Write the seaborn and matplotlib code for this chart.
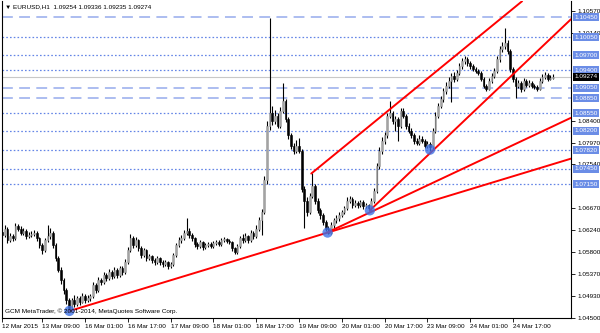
import numpy as np
import pandas as pd
import matplotlib
matplotlib.use("Agg")
import matplotlib.pyplot as plt
import seaborn as sns
from matplotlib import font_manager
from matplotlib.transforms import blended_transform_factory, offset_copy

# ---------------- data ----------------
first_open = 1.0620
closes = [1.0614,1.0627,1.0604,1.0612,1.0608,1.0631,1.0627,1.0619,1.0623,1.0612,
 1.0615,1.0617,1.0619,1.0608,1.0594,1.0584,1.0604,1.0612,1.0619,1.0594,
 1.0568,1.0545,1.0525,1.0505,1.0485,1.0470,1.0485,1.0478,1.0489,1.0482,
 1.0493,1.0485,1.0489,1.0493,1.0515,1.0505,1.0525,1.0521,1.0535,1.0529,
 1.0541,1.0533,1.0545,1.0535,1.0548,1.0541,1.0560,1.0584,1.0608,1.0594,
 1.0604,1.0588,1.0574,1.0584,1.0568,1.0572,1.0564,1.0560,1.0568,1.0560,
 1.0556,1.0560,1.0552,1.0556,1.0574,1.0594,1.0604,1.0608,1.0619,1.0623,
 1.0614,1.0608,1.0596,1.0592,1.0600,1.0590,1.0594,1.0596,1.0592,1.0598,
 1.0600,1.0596,1.0604,1.0606,1.0602,1.0600,1.0588,1.0580,1.0592,1.0608,
 1.0604,1.0612,1.0604,1.0619,1.0612,1.0627,1.0643,1.0659,1.0722,1.0830,
 1.0856,1.0840,1.0850,1.0830,1.0860,1.0880,1.0844,1.0811,1.0791,1.0781,
 1.0791,1.0781,1.0706,1.0682,1.0659,1.0692,1.0712,1.0682,1.0663,1.0653,
 1.0639,1.0627,1.0619,1.0633,1.0643,1.0647,1.0653,1.0659,1.0667,1.0682,
 1.0686,1.0673,1.0677,1.0673,1.0679,1.0671,1.0673,1.0667,1.0682,1.0702,
 1.0751,1.0781,1.0801,1.0811,1.0850,1.0856,1.0840,1.0844,1.0830,1.0860,
 1.0850,1.0830,1.0820,1.0811,1.0801,1.0797,1.0805,1.0801,1.0791,1.0795,
 1.0789,1.0820,1.0850,1.0870,1.0883,1.0899,1.0909,1.0919,1.0929,1.0923,
 1.0935,1.0948,1.0958,1.0962,1.0954,1.0948,1.0943,1.0939,1.0935,1.0923,
 1.0909,1.0903,1.0919,1.0929,1.0939,1.0962,1.0982,1.0988,1.0994,1.0978,
 1.0943,1.0923,1.0909,1.0915,1.0903,1.0919,1.0911,1.0915,1.0909,1.0907,
 1.0903,1.0919,1.0927,1.0931,1.0923,1.0925,1.09274]
highs = [1.0626,1.0633,1.0630,1.0618,1.0617,1.0637,1.0636,1.0631,1.0628,1.0626,
 1.0620,1.0622,1.0624,1.0622,1.0611,1.0598,1.0609,1.0633,1.0628,1.0622,
 1.0598,1.0572,1.0550,1.0529,1.0510,1.0489,1.0490,1.0495,1.0494,1.0493,
 1.0500,1.0497,1.0495,1.0498,1.0521,1.0519,1.0531,1.0530,1.0540,1.0539,
 1.0546,1.0545,1.0550,1.0548,1.0553,1.0552,1.0566,1.0590,1.0616,1.0612,
 1.0610,1.0607,1.0592,1.0589,1.0587,1.0577,1.0575,1.0568,1.0573,1.0571,
 1.0564,1.0565,1.0563,1.0561,1.0579,1.0599,1.0610,1.0614,1.0625,1.0647,
 1.0628,1.0618,1.0611,1.0600,1.0605,1.0603,1.0598,1.0600,1.0600,1.0603,
 1.0605,1.0604,1.0609,1.0611,1.0609,1.0606,1.0603,1.0591,1.0597,1.0613,
 1.0617,1.0618,1.0615,1.0625,1.0623,1.0633,1.0650,1.0666,1.0730,1.0840,
 1.1043,1.0870,1.0862,1.0856,1.0868,1.0915,1.0884,1.0848,1.0815,1.0797,
 1.0803,1.0806,1.0785,1.0712,1.0690,1.0698,1.0736,1.0716,1.0688,1.0668,
 1.0657,1.0643,1.0631,1.0639,1.0648,1.0653,1.0659,1.0664,1.0672,1.0690,
 1.0692,1.0690,1.0684,1.0681,1.0684,1.0683,1.0678,1.0676,1.0687,1.0708,
 1.0757,1.0788,1.0808,1.0818,1.0856,1.0880,1.0860,1.0850,1.0848,1.0866,
 1.0865,1.0854,1.0835,1.0826,1.0815,1.0806,1.0812,1.0809,1.0805,1.0800,
 1.0799,1.0826,1.0857,1.0876,1.0889,1.0905,1.0916,1.0926,1.0935,1.0936,
 1.0941,1.0955,1.0964,1.0968,1.0966,1.0958,1.0952,1.0947,1.0943,1.0938,
 1.0926,1.0913,1.0924,1.0934,1.0945,1.0968,1.0988,1.0995,1.1023,1.0999,
 1.0982,1.0947,1.0927,1.0921,1.0919,1.0924,1.0923,1.0920,1.0919,1.0913,
 1.0911,1.0924,1.0933,1.0936,1.0935,1.0930,1.09336]
lows = [1.0608,1.0610,1.0598,1.0600,1.0602,1.0605,1.0622,1.0614,1.0615,1.0607,
 1.0608,1.0611,1.0613,1.0603,1.0589,1.0577,1.0580,1.0600,1.0606,1.0588,
 1.0562,1.0540,1.0518,1.0498,1.0478,1.0464,1.0466,1.0472,1.0474,1.0476,
 1.0479,1.0480,1.0481,1.0484,1.0490,1.0500,1.0501,1.0515,1.0517,1.0524,
 1.0525,1.0528,1.0530,1.0530,1.0532,1.0536,1.0538,1.0556,1.0580,1.0589,
 1.0590,1.0582,1.0568,1.0570,1.0563,1.0564,1.0559,1.0555,1.0556,1.0555,
 1.0550,1.0552,1.0547,1.0548,1.0553,1.0571,1.0590,1.0598,1.0604,1.0615,
 1.0609,1.0602,1.0590,1.0586,1.0588,1.0585,1.0586,1.0590,1.0588,1.0589,
 1.0594,1.0592,1.0593,1.0600,1.0598,1.0596,1.0583,1.0576,1.0577,1.0589,
 1.0598,1.0600,1.0599,1.0601,1.0606,1.0609,1.0623,1.0614,1.0655,1.0716,
 1.0822,1.0832,1.0834,1.0825,1.0826,1.0855,1.0838,1.0805,1.0785,1.0775,
 1.0776,1.0776,1.0700,1.0629,1.0652,1.0655,1.0688,1.0676,1.0657,1.0646,
 1.0633,1.0622,1.0617,1.0616,1.0629,1.0638,1.0642,1.0649,1.0655,1.0664,
 1.0678,1.0668,1.0669,1.0668,1.0669,1.0666,1.0667,1.0662,1.0664,1.0678,
 1.0698,1.0745,1.0775,1.0795,1.0806,1.0845,1.0834,1.0820,1.0800,1.0826,
 1.0845,1.0824,1.0815,1.0806,1.0795,1.0792,1.0793,1.0796,1.0786,1.0787,
 1.0781,1.0785,1.0816,1.0845,1.0865,1.0878,1.0894,1.0904,1.0878,1.0916,
 1.0918,1.0930,1.0943,1.0952,1.0949,1.0943,1.0938,1.0934,1.0930,1.0918,
 1.0904,1.0899,1.0900,1.0914,1.0925,1.0935,1.0957,1.0976,1.0982,1.0972,
 1.0937,1.0916,1.0885,1.0904,1.0897,1.0899,1.0906,1.0907,1.0904,1.0902,
 1.0898,1.0900,1.0915,1.0923,1.0919,1.0920,1.09235]

time_tick_index = [0, 15, 31, 47, 63, 79, 95, 111, 127, 143, 159, 175, 191]
time_tick_labels = ["12 Mar 2015", "13 Mar 09:00", "16 Mar 01:00", "16 Mar 17:00",
                    "17 Mar 09:00", "18 Mar 01:00", "18 Mar 17:00", "19 Mar 09:00",
                    "20 Mar 01:00", "20 Mar 17:00", "23 Mar 09:00", "24 Mar 01:00",
                    "24 Mar 17:00"]

price_ticks = [1.04500, 1.04930, 1.05370, 1.05800, 1.06240, 1.06670,
               1.07540, 1.07970, 1.08400, 1.10140, 1.10570]
dashed_levels = [1.1045, 1.0905, 1.0885]
dotted_levels = [1.1005, 1.0970, 1.0940, 1.0855, 1.0820, 1.0782, 1.0745, 1.0715]
current_price = 1.09274

# trendlines: (bar index, price) start / end
trend_names = ["base", "mid", "steep", "upper"]
trend_x0 = [25.2, 121.7, 137.5, 115.6]
trend_y0 = [1.04638, 1.06194, 1.06628, 1.07357]
trend_x1 = [212.7, 212.7, 212.7, 194.4]
trend_y1 = [1.07652, 1.08460, 1.10410, 1.10765]

pivot_x = [25.2, 121.7, 137.5, 160.0]
pivot_y = [1.0464, 1.0619, 1.0663, 1.0783]

# ---------------- figure ----------------
sns.set_style("white")
available = {f.name for f in font_manager.fontManager.ttflist}
fam = [f for f in ["Liberation Sans Narrow", "DejaVu Sans Condensed", "Liberation Sans"]
       if f in available] + ["DejaVu Sans"]
narrow = fam[0] in ("Liberation Sans Narrow", "DejaVu Sans Condensed")
plt.rcParams["font.family"] = fam
FS = 5.4 if narrow else 4.6

W, H = 600, 333
fig = plt.figure(figsize=(W / 100, H / 100), dpi=100)
L, R, T, B = 1.5, 571, 1, 318
ax = fig.add_axes([L / W, 1 - B / H, (R - L) / W, (B - T) / H])

closes_a = np.array(closes)
highs_a = np.array(highs)
lows_a = np.array(lows)
opens_a = np.r_[first_open, closes_a[:-1]]
df = pd.DataFrame({"i": np.arange(len(closes_a)), "open": opens_a, "high": highs_a,
                   "low": lows_a, "close": closes_a})
df["up"] = df["close"] >= df["open"]

BOX_BLUE = "#6b8de6"

# level lines
for lv in dashed_levels:
    ax.axhline(lv, color="#a6b7ef", lw=1.3, ls=(0, (6, 3.5)), zorder=1)
for lv in dotted_levels:
    ax.axhline(lv, color="#6485e6", lw=0.9, ls=(0, (1.3, 1.7)), zorder=1)
ax.axhline(current_price, color="#c8c8c8", lw=0.8, zorder=1)

# candles
ax.vlines(df["i"], df["low"], df["high"], color="black", lw=0.8, zorder=2)
upd = df[df["up"]]
dnd = df[~df["up"]]
ax.bar(upd["i"], upd["close"] - upd["open"], bottom=upd["open"], width=0.65,
       color="#a3a3a3", edgecolor="#a3a3a3", lw=0.4, zorder=3)
ax.bar(dnd["i"], dnd["open"] - dnd["close"], bottom=dnd["close"], width=0.65,
       color="black", edgecolor="black", lw=0.4, zorder=3)

# trendlines
tl = pd.DataFrame({
    "x": trend_x0 + trend_x1,
    "y": trend_y0 + trend_y1,
    "line": trend_names + trend_names,
})
sns.lineplot(data=tl, x="x", y="y", units="line", estimator=None, color="#ff0000",
             lw=1.4, ax=ax, legend=False, zorder=4)

sns.scatterplot(x=pivot_x, y=pivot_y, s=55, color="#3f72e6", alpha=0.8,
                edgecolor="none", ax=ax, zorder=5)

ax.set_xlim(-0.2, 212.7)
ax.set_ylim(1.04505, 1.1077)
ax.set_xlabel("")
ax.set_ylabel("")

for s in ["left", "bottom", "right"]:
    ax.spines[s].set_color("black")
    ax.spines[s].set_linewidth(0.8)
ax.spines["top"].set_visible(False)

ax.yaxis.tick_right()
ax.set_yticks(price_ticks)
ax.set_yticklabels([f"{v:.5f}" for v in price_ticks])
ax.tick_params(axis="y", which="both", right=True, left=False, direction="out",
               length=3, width=0.6, pad=1.5, labelsize=FS, colors="black")
ax.set_xticks(time_tick_index)
ax.set_xticklabels(time_tick_labels)
ax.tick_params(axis="x", bottom=True, direction="out", length=3, width=0.6,
               pad=1.2, labelsize=FS, colors="black")
for lab in ax.get_xticklabels():
    lab.set_ha("left")

# boxed labels on the price axis
tr = offset_copy(blended_transform_factory(ax.transAxes, ax.transData), fig=fig,
                 x=3.5, y=0, units="dots")
for lv in dashed_levels + dotted_levels:
    ax.text(1.0, lv, f"{lv:.5f}", transform=tr, ha="left", va="center", fontsize=FS,
            color="white", clip_on=False, zorder=10,
            bbox=dict(boxstyle="square,pad=0.22", fc=BOX_BLUE, ec="none"))
ax.text(1.0, current_price, f"{current_price:.5f}", transform=tr, ha="left",
        va="center", fontsize=FS, color="white", clip_on=False, zorder=11,
        bbox=dict(boxstyle="square,pad=0.22", fc="black", ec="none"))

fig.text(5 / W, 1 - 6.5 / H, "\u25BC EURUSD,H1  1.09254 1.09336 1.09235 1.09274",
         fontsize=FS, va="center", ha="left", color="black")
fig.text(5 / W, 1 - 311 / H, "GCM MetaTrader, \u00A9 2001-2014, MetaQuotes Software Corp.",
         fontsize=FS, va="center", ha="left", color="black")

fig.savefig("out.png", dpi=100, facecolor="white")
